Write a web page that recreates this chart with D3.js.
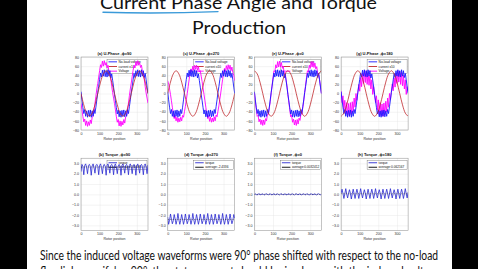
<!DOCTYPE html>
<html>
<head>
<meta charset="utf-8">
<script src="https://cdn.jsdelivr.net/npm/d3@7/dist/d3.min.js"></script>
<style>
  body { margin: 0; background: #000; }
  svg { display: block; }
  .tick text { font-family: "Liberation Sans", Arial, sans-serif; font-size: 3.6px; fill: #333; }
  .ptitle { font-family: "Liberation Sans", Arial, sans-serif; font-size: 4px; font-weight: bold; fill: #111; }
  .xlab { font-family: "Liberation Sans", Arial, sans-serif; font-size: 3.6px; fill: #333; }
  .leg { font-family: "Liberation Sans", Arial, sans-serif; font-size: 3.2px; fill: #111; }
</style>
</head>
<body>
<svg id="slide" width="478" height="269"></svg>
<script>
// sampling grids (rotor position, degrees)
const rotorPos = d3.range(0, 361, 5);
const currentPos = d3.range(0, 361, 15);

// no-load voltage, same in all four phase plots
const noLoadVoltage = [4,-14,-30,-44,-35,-50,-38,-52,-37,-50,-36,-52,-38,-50,-35,-44,-30,-14,2,
  16,31,45,36,51,38,52,37,50,36,52,38,50,34,43,29,14,-2,
  -16,-31,-45,-36,-51,-38,-52,-37,-50,-36,-51,-38,-50,-35,-44,-29,-14,2,
  15,30,44,35,50,38,52,37,50,36,52,38,50,35,44,30,14,0];

// terminal voltage per current angle
const voltageA = [-22,-35,-50,-62,-56,-70,-60,-72,-62,-70,-58,-66,-52,-50,-36,-22,-6,10,22,
  36,50,63,57,71,60,72,62,68,56,62,48,46,32,16,2,-10,-22,
  -36,-51,-63,-57,-71,-60,-72,-61,-69,-57,-65,-51,-49,-35,-21,-5,10,23,
  37,51,62,56,70,61,72,62,68,57,62,48,45,31,15,1,-10,-21];
const voltageC = [28,20,10,-2,-16,-30,-45,-55,-48,-60,-52,-63,-54,-62,-52,-60,-48,-52,-40,
  -28,-14,0,15,30,44,54,47,60,51,62,53,62,51,59,47,50,38,
  26,12,-2,-16,-30,-45,-55,-48,-61,-52,-63,-54,-62,-51,-60,-47,-51,-39,
  -27,-13,1,16,31,45,55,48,61,52,63,53,62,50,58,46,40,28];
const voltageE = [2,-18,-34,-50,-48,-62,-56,-68,-58,-70,-58,-68,-55,-60,-46,-46,-32,-18,0,
  18,34,50,48,63,56,70,58,71,58,68,55,60,45,45,31,17,-2,
  -19,-35,-51,-48,-63,-56,-69,-58,-70,-57,-67,-54,-59,-45,-45,-31,-17,1,
  19,35,50,47,62,55,70,58,70,57,67,54,59,44,44,30,16,0];
const voltageG = [5,-20,-5,-35,-15,-45,-20,-48,-22,-50,-20,-46,-18,-40,-10,-30,0,-15,5,
  20,5,35,15,45,22,50,24,50,20,46,18,40,10,30,-2,15,-5,
  -20,-5,-36,-14,-46,-20,-49,-23,-50,-21,-46,-17,-40,-10,-30,0,-14,4,
  21,6,34,14,44,22,50,25,49,20,46,17,40,10,30,-2,15,4];

// phase current x10
const currentA = [0,-25,-43,-50,-43,-25,0,25,43,50,43,25,0,-25,-43,-50,-43,-25,0,25,43,50,43,25,0];
const currentC = [0,25,43,50,43,25,0,-25,-43,-50,-43,-25,0,25,43,50,43,25,0,-25,-43,-50,-43,-25,0];
const currentE = [50,43,25,0,-25,-43,-50,-43,-25,0,25,43,50,43,25,0,-25,-43,-50,-43,-25,0,25,43,50];
const currentG = [-50,-43,-25,0,25,43,50,43,25,0,-25,-43,-50,-43,-25,0,25,43,50,43,25,0,-25,-43,-50];

// torque per current angle
const torqueB = [2.2, 2.9,2.7,1.9,2.8, 2.95,2.6,2.0,2.8, 2.9,2.7,1.85,2.75, 2.95,2.6,2.05,2.8,
  2.9,2.7,1.9,2.8, 2.95,2.6,2.0,2.75, 2.9,2.7,1.85,2.8, 2.95,2.6,2.05,2.8,
  2.9,2.7,1.9,2.8, 2.95,2.6,2.0,2.75, 2.9,2.7,1.85,2.8, 2.95,2.6,2.05,2.8,
  2.9,2.7,1.9,2.8, 2.95,2.6,2.0,2.75, 2.9,2.7,1.85,2.8, 2.95,2.6,2.05,2.8,
  2.9,2.7,1.9,2.8, 2.95,2.6,2.0,2.85];
const torqueD = [-2.2, -2.9,-2.5,-1.9,-2.4, -2.85,-2.55,-1.95,-2.4, -2.9,-2.5,-1.85,-2.45, -2.9,-2.5,-1.95,-2.4,
  -2.9,-2.5,-1.9,-2.4, -2.85,-2.55,-1.95,-2.4, -2.9,-2.5,-1.85,-2.45, -2.9,-2.5,-1.95,-2.4,
  -2.9,-2.5,-1.9,-2.4, -2.85,-2.55,-1.95,-2.4, -2.9,-2.5,-1.85,-2.45, -2.9,-2.5,-1.95,-2.4,
  -2.9,-2.5,-1.9,-2.4, -2.85,-2.55,-1.95,-2.4, -2.9,-2.5,-1.85,-2.45, -2.9,-2.5,-1.95,-2.4,
  -2.9,-2.5,-1.9,-2.4, -2.85,-2.55,-1.95,-2.3];
const torqueF = [0, 0.04,-0.02,-0.05,0.02, 0.05,-0.01,-0.04,0.02, 0.04,-0.02,-0.05,0.02, 0.05,-0.01,-0.04,0.02,
  0.04,-0.02,-0.05,0.02, 0.05,-0.01,-0.04,0.02, 0.04,-0.02,-0.05,0.02, 0.05,-0.01,-0.04,0.02,
  0.04,-0.02,-0.05,0.02, 0.05,-0.01,-0.04,0.02, 0.04,-0.02,-0.05,0.02, 0.05,-0.01,-0.04,0.02,
  0.04,-0.02,-0.05,0.02, 0.05,-0.01,-0.04,0.02, 0.04,-0.02,-0.05,0.02, 0.05,-0.01,-0.04,0.02,
  0.04,-0.02,-0.05,0.02, 0.05,-0.01,-0.04,0];
const torqueH = [0.1, 0.5,0.1,-0.4,0.05, 0.55,0.05,-0.35,0.1, 0.45,0.1,-0.45,0.05, 0.5,0.05,-0.4,0.1,
  0.5,0.1,-0.4,0.05, 0.55,0.05,-0.35,0.1, 0.45,0.1,-0.45,0.05, 0.5,0.05,-0.4,0.1,
  0.5,0.1,-0.4,0.05, 0.55,0.05,-0.35,0.1, 0.45,0.1,-0.45,0.05, 0.5,0.05,-0.4,0.1,
  0.5,0.1,-0.4,0.05, 0.55,0.05,-0.35,0.1, 0.45,0.1,-0.45,0.05, 0.5,0.05,-0.4,0.1,
  0.5,0.1,-0.4,0.05, 0.55,0.05,-0.35,0.2];
const torqueAvg = [2.6438, -2.4336, 0.0032412, 0.062167];

const phaseTitles = ["(a) U-Phase ,ϕ=90", "(c) U-Phase ,ϕ=270", "(e) U-Phase ,ϕ=0", "(g) U-Phase ,ϕ=180"];
const torqueTitles = ["(b) Torque ,ϕ=90", "(d) Torque ,ϕ=270", "(f) Torque ,ϕ=0", "(h) Torque ,ϕ=180"];
const voltages = [voltageA, voltageC, voltageE, voltageG];
const currents = [currentA, currentC, currentE, currentG];
const torques = [torqueB, torqueD, torqueF, torqueH];
const phaseLegend = ["No-load voltage", "current x10", "Voltage"];
const xTicks = [0, 100, 200, 300];
const phaseYTicks = [-80, -60, -40, -20, 0, 20, 40, 60, 80];
const torqueYTicks = [-3, -2, -1, 0, 1, 2, 3];

const svg = d3.select("#slide");
const panelLeft = [81, 167.7, 254.4, 341.1];
const plotW = 67;

// slide background with black side bars
svg.append("rect").attr("width", 478).attr("height", 269).attr("fill", "#000");
svg.append("rect").attr("x", 27).attr("width", 425).attr("height", 269).attr("fill", "#fff");

// slide title
const titleFont = "Lato, 'Open Sans', sans-serif";
svg.append("text")
    .attr("x", 100).attr("y", 8.5)
    .attr("textLength", 277).attr("lengthAdjust", "spacingAndGlyphs")
    .style("font-family", titleFont).style("font-size", "17px").attr("fill", "#111")
    .text("Current Phase Angle and Torque");
svg.append("text")
    .attr("x", 192).attr("y", 34.3)
    .attr("textLength", 94).attr("lengthAdjust", "spacingAndGlyphs")
    .style("font-family", titleFont).style("font-size", "17px").attr("fill", "#111")
    .text("Production");
// pen underline under "Current Phase"
svg.append("path")
    .attr("d", "M103,12.3 Q160,14 218,11.6")
    .attr("fill", "none").attr("stroke", "#3a9ad9").attr("stroke-width", 1.4)
    .attr("stroke-linecap", "round");

function drawPanel(i, top, height, yDomain, yTicks, title) {
    const left = panelLeft[i];
    const x = d3.scaleLinear().domain([0, 360]).range([left, left + plotW]);
    const y = d3.scaleLinear().domain(yDomain).range([top + height, top]);
    const g = svg.append("g");

    const clipId = "clip-" + i + "-" + Math.round(top);
    svg.append("clipPath").attr("id", clipId)
        .append("rect").attr("x", left).attr("y", top).attr("width", plotW).attr("height", height);

    // grid lines
    g.append("g").attr("transform", `translate(0,${top + height})`)
        .call(d3.axisBottom(x).tickValues(xTicks).tickSize(-height).tickFormat(""))
        .call(a => a.select(".domain").remove())
        .call(a => a.selectAll("line").attr("stroke", "#e3e3e3").attr("stroke-width", 0.4));
    g.append("g").attr("transform", `translate(${left},0)`)
        .call(d3.axisLeft(y).tickValues(yTicks).tickSize(-plotW).tickFormat(""))
        .call(a => a.select(".domain").remove())
        .call(a => a.selectAll("line").attr("stroke", "#e3e3e3").attr("stroke-width", 0.4));

    // tick labels
    g.append("g").attr("transform", `translate(0,${top + height})`)
        .call(d3.axisBottom(x).tickValues(xTicks).tickSize(0).tickPadding(2))
        .call(a => a.select(".domain").remove());
    g.append("g").attr("transform", `translate(${left},0)`)
        .call(d3.axisLeft(y).tickValues(yTicks).tickSize(0).tickPadding(2))
        .call(a => a.select(".domain").remove());

    g.append("text").attr("class", "ptitle")
        .attr("x", left + plotW / 2).attr("y", top - 2.5).attr("text-anchor", "middle")
        .text(title);
    g.append("text").attr("class", "xlab")
        .attr("x", left + plotW / 2).attr("y", top + height + 9.5).attr("text-anchor", "middle")
        .text("Rotor position");

    const lines = svg.append("g").attr("clip-path", `url(#${clipId})`);
    return { x, y, g, lines, left, top, height };
}

function drawBox(p) {
    p.g.append("rect")
        .attr("x", p.left).attr("y", p.top).attr("width", plotW).attr("height", p.height)
        .attr("fill", "none").attr("stroke", "#8a8a8a").attr("stroke-width", 0.5);
}

function drawLegend(p, entries, boxTop, boxH) {
    const lx = p.left + 26, lw = 40;
    const lg = p.g.append("g");
    lg.append("rect").attr("x", lx).attr("y", boxTop).attr("width", lw).attr("height", boxH)
        .attr("fill", "#fff").attr("stroke", "#555").attr("stroke-width", 0.35);
    const step = boxH / entries.length;
    entries.forEach((e, k) => {
        const cy = boxTop + step * (k + 0.5);
        lg.append("line").attr("x1", lx + 1.5).attr("x2", lx + 10).attr("y1", cy).attr("y2", cy)
            .attr("stroke", e.color).attr("stroke-width", 0.9);
        lg.append("text").attr("class", "leg").attr("x", lx + 11.5).attr("y", cy + 1.1).text(e.label);
    });
}

const blue = "#1a1aff", red = "#c0282d", magenta = "#ff00ff";

// top row: phase voltages and current
for (let i = 0; i < 4; i++) {
    const p = drawPanel(i, 57, 73, [-80, 80], phaseYTicks, phaseTitles[i]);
    const lineV = d3.line().x((d, k) => p.x(rotorPos[k])).y(d => p.y(d));
    const lineI = d3.line().x((d, k) => p.x(currentPos[k])).y(d => p.y(d)).curve(d3.curveCatmullRom);
    p.lines.append("path").datum(voltages[i]).attr("d", lineV)
        .attr("fill", "none").attr("stroke", magenta).attr("stroke-width", 0.9);
    p.lines.append("path").datum(noLoadVoltage).attr("d", lineV)
        .attr("fill", "none").attr("stroke", blue).attr("stroke-width", 0.9);
    p.lines.append("path").datum(currents[i]).attr("d", lineI)
        .attr("fill", "none").attr("stroke", red).attr("stroke-width", 0.8);
    drawBox(p);
    drawLegend(p, [
        { label: phaseLegend[0], color: blue },
        { label: phaseLegend[1], color: red },
        { label: phaseLegend[2], color: magenta }
    ], 59.5, 14);
}

// bottom row: torque
for (let i = 0; i < 4; i++) {
    const p = drawPanel(i, 158.2, 72.3, [-3.5, 3.5], torqueYTicks, torqueTitles[i]);
    const lineT = d3.line().x((d, k) => p.x(rotorPos[k])).y(d => p.y(d));
    p.lines.append("path").datum(torques[i]).attr("d", lineT)
        .attr("fill", "none").attr("stroke", "#2a2ad0").attr("stroke-width", 0.8);
    p.lines.append("line")
        .attr("x1", p.x(0)).attr("x2", p.x(360))
        .attr("y1", p.y(torqueAvg[i])).attr("y2", p.y(torqueAvg[i]))
        .attr("stroke", "#000").attr("stroke-width", 0.4).attr("stroke-dasharray", "1.2,1.2");
    drawBox(p);
    drawLegend(p, [
        { label: "torque", color: "#2a2ad0" },
        { label: "average:" + torqueAvg[i], color: "#000" }
    ], 160.5, 9);
}

// slide body text
const bodyFont = "Lato, 'Open Sans', sans-serif";
svg.append("text")
    .attr("x", 40).attr("y", 259.5)
    .attr("textLength", 398).attr("lengthAdjust", "spacingAndGlyphs")
    .style("font-family", bodyFont).style("font-size", "12.5px").attr("fill", "#111")
    .text("Since the induced voltage waveforms were 90° phase shifted with respect to the no-load");
svg.append("text")
    .attr("x", 40).attr("y", 275.5)
    .attr("textLength", 400).attr("lengthAdjust", "spacingAndGlyphs")
    .style("font-family", bodyFont).style("font-size", "12.5px").attr("fill", "#111")
    .text("flux linkages, if ϕ = 90°, the stator current should be in phase with the induced voltage");
</script>
</body>
</html>
